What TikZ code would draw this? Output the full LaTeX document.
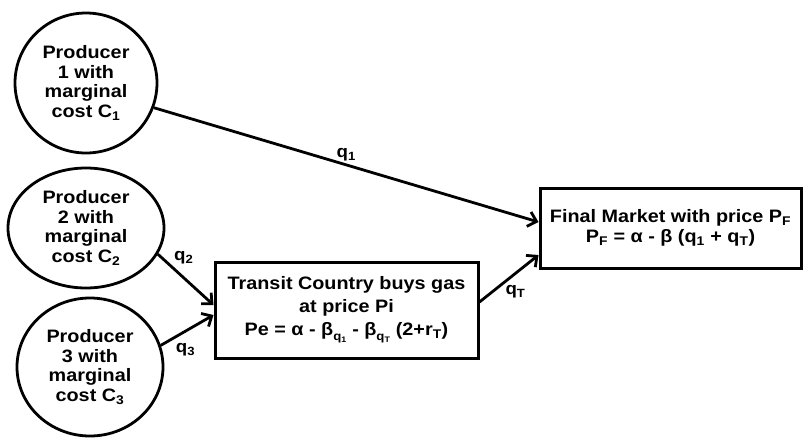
\documentclass[tikz,border=0pt]{standalone}
\usepackage{fontspec}
\setmainfont{Liberation Sans}[FakeStretch=1.1]
\usetikzlibrary{shapes.geometric, arrows.meta, positioning}
\newcommand{\lowsub}[1]{\raisebox{-0.55ex}{\fontsize{12}{12}\selectfont #1}}

\begin{document}
\begin{tikzpicture}[x=1pt, y=-1pt,
        % Estilos de productores, etapas y flujos
        producer/.style={draw, ellipse, line width=2.8pt, inner sep=0pt, align=center,
            font=\bfseries\fontsize{18}{19.5}\selectfont},
        stage/.style={draw, rectangle, line width=3pt, inner sep=0pt, align=center,
            font=\bfseries\fontsize{18}{23}\selectfont},
        flow/.style={line width=2.8pt, -{Straight Barb[length=8pt, width=15pt]}},
        qlabel/.style={font=\bfseries\fontsize{17}{17}\selectfont, inner sep=1pt},
    ]
        \useasboundingbox (0,0) rectangle (803,437);

        % 1. Productores
        \node (prod1) [producer, minimum width=142pt, minimum height=140pt] at (86,83)
            {Producer\\1 with\\marginal\\cost C\textsubscript{1}};
        \node (prod2) [producer, minimum width=156pt, minimum height=120pt] at (86,228)
            {Producer\\2 with\\marginal\\cost C\textsubscript{2}};
        \node (prod3) [producer, minimum width=146pt, minimum height=138pt] at (90,367)
            {Producer\\3 with\\marginal\\cost C\textsubscript{3}};

        % 2. Pais de transito y mercado final
        \node (transit) [stage, minimum width=263pt, minimum height=96pt] at (346.5,310)
            {Transit Country buys gas\\at price Pi\\Pe = α - β\lowsub{q\textsubscript{1}} - β\lowsub{q\textsubscript{T}} (2+r\textsubscript{T})};
        \node (market) [stage, font=\bfseries\fontsize{18}{20}\selectfont,
            minimum width=261pt, minimum height=80pt] at (670.5,228)
            {Final Market with price P\textsubscript{F}\\P\textsubscript{F} = α - β (q\textsubscript{1} + q\textsubscript{T})};

        % 3. Flujos de gas
        \draw[flow] (prod1.-20) -- node[qlabel, above=1pt] {q\textsubscript{1}} ([yshift=6pt]market.west);
        \draw[flow] (prod2.-20) -- node[qlabel, pos=0.25, above right=0pt] {q\textsubscript{2}} ([yshift=5pt]transit.west);
        \draw[flow] (prod3.17) -- node[qlabel, pos=0.2, below right=3pt] {q\textsubscript{3}} ([yshift=-5pt]transit.west);
        \draw[flow] ([yshift=8pt]transit.east) -- node[qlabel, pos=0.4, below right=0pt] {q\textsubscript{T}} ([yshift=-27pt]market.west);

    \end{tikzpicture}
\end{document}
